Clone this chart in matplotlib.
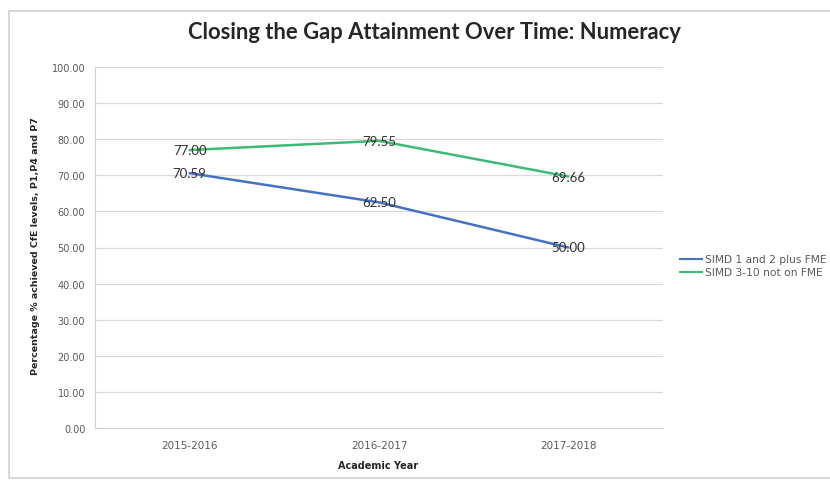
import matplotlib
matplotlib.use("Agg")
import matplotlib.pyplot as plt
from matplotlib.patches import Rectangle
from matplotlib.lines import Line2D

years = ["2015-2016", "2016-2017", "2017-2018"]
simd12_fme = [70.59, 62.50, 50.00]
simd310_not_fme = [77.00, 79.55, 69.66]
series_names = ["SIMD 1 and 2 plus FME", "SIMD 3-10 not on FME"]
yticks = [0, 10, 20, 30, 40, 50, 60, 70, 80, 90, 100]

plt.rcParams['font.family'] = ['Lato', 'DejaVu Sans']
small_font = ['DejaVu Sans']

W, H = 830, 481
fig = plt.figure(figsize=(W / 100, H / 100), dpi=100)
fig.patch.set_facecolor("white")

# chart border
fig.add_artist(Rectangle((9 / W, 1 - 479 / H), (W + 20 - 9) / W, (479 - 12) / H,
                         transform=fig.transFigure, fill=False,
                         edgecolor="#d0d0d0", linewidth=1.2))

left, right, top, bottom = 95, 663, 68, 429
ax = fig.add_axes([left / W, 1 - bottom / H, (right - left) / W, (bottom - top) / H])

x = list(range(len(years)))
blue = "#4472C4"
green = "#3DBA73"
ax.plot(x, simd12_fme, color=blue, linewidth=1.8, solid_capstyle="round")
ax.plot(x, simd310_not_fme, color=green, linewidth=1.8, solid_capstyle="round")

for xi, v in zip(x, simd12_fme):
    ax.text(xi, v, f"{v:.2f}", ha="center", va="center", fontsize=9.5, color="#303030")
for xi, v in zip(x, simd310_not_fme):
    ax.text(xi, v, f"{v:.2f}", ha="center", va="center", fontsize=9.5, color="#303030")

ax.set_xlim(-0.5, len(years) - 0.5)
ax.set_ylim(0, 100)
ax.set_yticks(yticks)
ax.set_yticklabels([f"{t:.2f}" for t in yticks], fontsize=7, color="#595959",
                   family=small_font)
ax.set_xticks(x)
ax.set_xticklabels(years, fontsize=7.5, color="#595959", family=small_font)
ax.tick_params(axis="both", length=0)
ax.tick_params(axis="y", pad=7)
ax.tick_params(axis="x", pad=9)
ax.grid(axis="y", color="#d9d9d9", linewidth=0.9)
ax.set_axisbelow(True)
for s in ["top", "right"]:
    ax.spines[s].set_visible(False)
ax.spines["left"].set_color("#d0d0d0")
ax.spines["bottom"].set_color("#d0d0d0")

fig.text(36 / W, 1 - 246 / H, "Percentage % achieved CfE levels, P1,P4 and P7",
         rotation=90, ha="center", va="center", fontsize=6.8, fontweight="bold",
         color="#262626", family=small_font)
fig.text(378 / W, 1 - 466 / H, "Academic Year", ha="center", va="center",
         fontsize=7, fontweight="bold", color="#262626", family=small_font)
fig.text(434 / W, 1 - 33 / H, "Closing the Gap Attainment Over Time: Numeracy",
         ha="center", va="center", fontsize=15.8, fontweight="bold", color="#262626")

# legend
for yy, col, name in [(260, blue, series_names[0]), (273, green, series_names[1])]:
    fig.add_artist(Line2D([680 / W, 702 / W], [1 - yy / H, 1 - yy / H],
                          transform=fig.transFigure, color=col, linewidth=1.5))
    fig.text(705 / W, 1 - yy / H, name, ha="left", va="center", fontsize=7.7,
             color="#595959", family=small_font)

fig.savefig("out.png", dpi=100)
